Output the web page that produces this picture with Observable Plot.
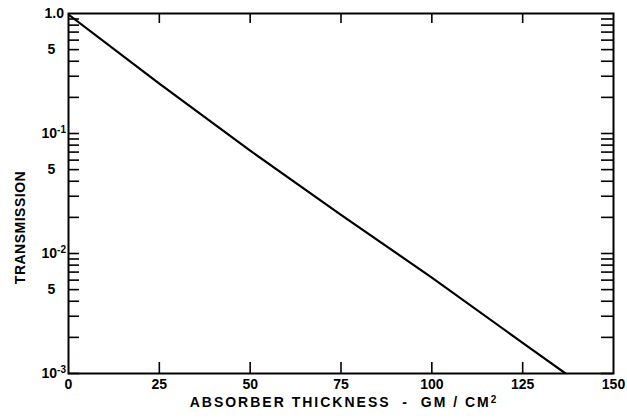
<!DOCTYPE html>
<html>
<head>
<meta charset="utf-8">
<script src="https://cdn.jsdelivr.net/npm/d3@7"></script>
<script src="https://cdn.jsdelivr.net/npm/@observablehq/plot@0.6"></script>
<style>
  html, body { margin: 0; padding: 0; background: #fff; }
  svg { font-family: "Liberation Sans", Arial, sans-serif; font-weight: bold; }
</style>
</head>
<body>
<div id="chart"></div>
<script>
// Data
const thickness = [0, 25, 50, 75, 100, 125, 136.8];
const transmission = [0.98, 0.26, 0.072, 0.021, 0.0063, 0.0018, 0.001];

const xTicks = [0, 25, 50, 75, 100, 125, 150];
const xInnerTicks = [25, 50, 75, 100, 125];
const yDecades = [0.001, 0.01, 0.1];
const yMultipliers = [1, 2, 3, 4, 5, 6, 7, 8, 9];
const yPowerValues = [0.1, 0.01, 0.001];
const yPowerBase = ["10", "10", "10"];
const yPowerExponents = ["-1", "-2", "-3"];
const yFiveValues = [0.5, 0.05, 0.005];
const yFiveLabels = ["5", "5", "5"];
const yTopValue = [1];
const yTopLabel = ["1.0"];
const xTitle = "ABSORBER THICKNESS \u00A0- \u00A0GM / CM";
const xTitleExponent = "2";
const yTitle = "TRANSMISSION";

const W = 627, H = 419;
const mL = 68, mR = 14, mT = 13, mB = 46;
const plotW = W - mL - mR, plotH = H - mT - mB;

const curve = thickness.map((t, i) => ({t, v: transmission[i]}));
const minorTicks = yDecades.flatMap(d => yMultipliers.map(m => d * m));

const chart = Plot.plot({
  width: W, height: H,
  marginLeft: mL, marginRight: mR, marginTop: mT, marginBottom: mB,
  x: {domain: [0, 150], axis: null},
  y: {type: "log", domain: [0.001, 1], axis: null},
  style: {fontFamily: "'Liberation Sans', Arial, sans-serif", fontWeight: "bold", fontSize: "14px", color: "black"},
  marks: [
    // inward ticks, left and right
    Plot.tickY(minorTicks, {y: d => d, insetRight: plotW - 11, stroke: "black", strokeWidth: 1.6}),
    Plot.tickY(minorTicks, {y: d => d, insetLeft: plotW - 12, stroke: "black", strokeWidth: 1.6}),
    // inward ticks, top and bottom
    Plot.tickX(xInnerTicks, {x: d => d, insetBottom: plotH - 10, stroke: "black", strokeWidth: 1.6}),
    Plot.tickX(xInnerTicks, {x: d => d, insetTop: plotH - 11, stroke: "black", strokeWidth: 1.6}),
    Plot.frame({stroke: "black", strokeWidth: 2}),
    Plot.line(curve, {x: "t", y: "v", stroke: "black", strokeWidth: 2.2, clip: true}),
    // y tick labels
    Plot.text(yTopValue, {y: d => d, text: (d, i) => yTopLabel[i], frameAnchor: "left", textAnchor: "start", dx: -24, fontSize: 14}),
    Plot.text(yPowerValues, {y: d => d, text: (d, i) => yPowerBase[i], frameAnchor: "left", textAnchor: "start", dx: -27, fontSize: 14, className: "pow"}),
    Plot.text(yFiveValues, {y: d => d, text: (d, i) => yFiveLabels[i], frameAnchor: "left", textAnchor: "start", dx: -21, fontSize: 14}),
    // x tick labels
    Plot.text(xTicks, {x: d => d, text: d => String(d), frameAnchor: "bottom", lineAnchor: "middle", dy: 11, fontSize: 14}),
    // axis titles
    Plot.text([xTitle], {frameAnchor: "bottom", lineAnchor: "middle", dy: 29, dx: 3, fontSize: 14, className: "xtitle"}),
    Plot.text([yTitle], {frameAnchor: "left", textAnchor: "middle", rotate: -90, dx: -48, dy: 34, fontSize: 14, className: "ytitle"})
  ]
});

document.getElementById("chart").appendChild(chart);
const svg = d3.select(chart);
svg.selectAll("g.xtitle text").style("letter-spacing", "2px")
  .append("tspan").attr("dy", "-0.4em").attr("font-size", "10px").text(xTitleExponent);
svg.selectAll("g.ytitle text").style("letter-spacing", "0.5px");
// superscript exponents for powers of ten
svg.selectAll("g.pow text").each(function(d, i) {
  d3.select(this).append("tspan")
    .attr("dy", "-0.45em")
    .attr("font-size", "10px")
    .text(yPowerExponents[i]);
});
</script>
</body>
</html>
